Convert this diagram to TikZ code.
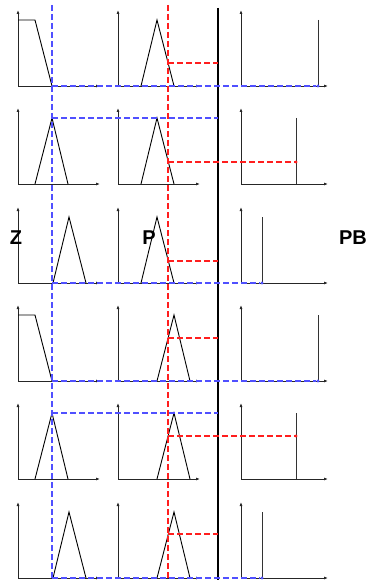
\documentclass[tikz,border=0pt]{standalone}
\usepackage{fontspec}
\setmainfont{Liberation Sans}
\usetikzlibrary{arrows.meta}
\definecolor{cutblue}{RGB}{80,80,255}
\definecolor{cutred}{RGB}{255,30,30}
\begin{document}
\begin{tikzpicture}[x=1pt,y=-1pt,
  axis/.style={-{Latex[length=4pt,width=3pt]}, line width=0.8pt, black!85},
  mf/.style={line width=0.9pt, black},
  bar/.style={line width=1pt, black!80},
  bluecut/.style={cutblue, dash pattern=on 6pt off 3pt, line width=1.1pt},
  redcut/.style={cutred, dash pattern=on 6pt off 3pt, line width=1.1pt},
  dot/.style={circle, inner sep=0pt, minimum size=3.4pt},
  lbl/.style={font=\bfseries\fontsize{20}{20}\selectfont, inner sep=0pt}]
\useasboundingbox (0,0) rectangle (368,580);
% axes of all plots
\foreach \b in {86,184,283,381,479,578}{
  \draw[axis] (18,\b) -- (18,\b-76);
  \draw[axis] (18,\b) -- (100,\b);
  \draw[axis] (118,\b) -- (118,\b-76);
  \draw[axis] (118,\b) -- (200,\b);
  \draw[axis] (241,\b) -- (241,\b-76);
  \draw[axis] (241,\b) -- (328,\b);
}
% left membership functions
\draw[mf] (18,20) -- (35,20) -- (52,86);
\draw[mf] (35,184) -- (52,118) -- (68,184);
\draw[mf] (53,283) -- (69,217) -- (86,283);
\draw[mf] (18,315) -- (35,315) -- (52,381);
\draw[mf] (35,479) -- (52,413) -- (68,479);
\draw[mf] (53,578) -- (69,512) -- (86,578);
% middle membership functions
\draw[mf] (141,86) -- (157,20) -- (174,86);
\draw[mf] (141,184) -- (157,118) -- (174,184);
\draw[mf] (141,283) -- (157,217) -- (174,283);
\draw[mf] (157,381) -- (174,315) -- (190,381);
\draw[mf] (157,479) -- (174,413) -- (190,479);
\draw[mf] (157,578) -- (174,512) -- (190,578);
% right singleton bars
\draw[bar] (318,20) -- (318,86);
\draw[bar] (296,118) -- (296,184);
\draw[bar] (262,217) -- (262,283);
\draw[bar] (318,315) -- (318,381);
\draw[bar] (296,413) -- (296,479);
\draw[bar] (262,512) -- (262,578);
% separator
\coordinate (sepT) at (218,8);
\coordinate (sepB) at (218,580);
\draw[line width=1.4pt] (sepT) -- (sepB);
% input cut lines
\coordinate (bT) at (52,5);
\coordinate (bB) at (52,580);
\draw[bluecut] (bT) -- (bB);
\coordinate (rT) at (168,5);
\coordinate (rB) at (168,580);
\draw[redcut] (rT) -- (rB);
% blue horizontals
\node[dot, fill=cutblue] (o1) at (318,86) {};
\node[dot, fill=cutblue] (o3) at (262,283) {};
\node[dot, fill=cutblue] (o4) at (318,381) {};
\node[dot, fill=cutblue] (o6) at (262,578) {};
\coordinate (s1) at (52,86);
\coordinate (s3) at (52,283);
\coordinate (s4) at (52,381);
\coordinate (s6) at (52,578);
\draw[bluecut] (s1) -- (o1);
\draw[bluecut] (s3) -- (o3);
\draw[bluecut] (s4) -- (o4);
\draw[bluecut] (s6) -- (o6);
\coordinate (s2) at (52,118);
\coordinate (e2) at (218,118);
\coordinate (s5) at (52,413);
\coordinate (e5) at (218,413);
\draw[bluecut] (s2) -- (e2);
\draw[bluecut] (s5) -- (e5);
% red horizontals
\coordinate (r1) at (168,63);
\coordinate (q1) at (218,63);
\coordinate (r3) at (168,261);
\coordinate (q3) at (218,261);
\coordinate (r4) at (168,338);
\coordinate (q4) at (218,338);
\coordinate (r6) at (168,534);
\coordinate (q6) at (218,534);
\draw[redcut] (r1) -- (q1);
\draw[redcut] (r3) -- (q3);
\draw[redcut] (r4) -- (q4);
\draw[redcut] (r6) -- (q6);
\node[dot, fill=cutred] (p2) at (296,162) {};
\node[dot, fill=cutred] (p5) at (296,436) {};
\coordinate (r2) at (168,162);
\coordinate (r5) at (168,436);
\draw[redcut] (r2) -- (p2);
\draw[redcut] (r5) -- (p5);
% labels
\node[lbl] (lz) at (16,238) {Z};
\node[lbl] (lp) at (149,238) {P};
\node[lbl] (lpb) at (353,238) {PB};
\end{tikzpicture}
\end{document}
